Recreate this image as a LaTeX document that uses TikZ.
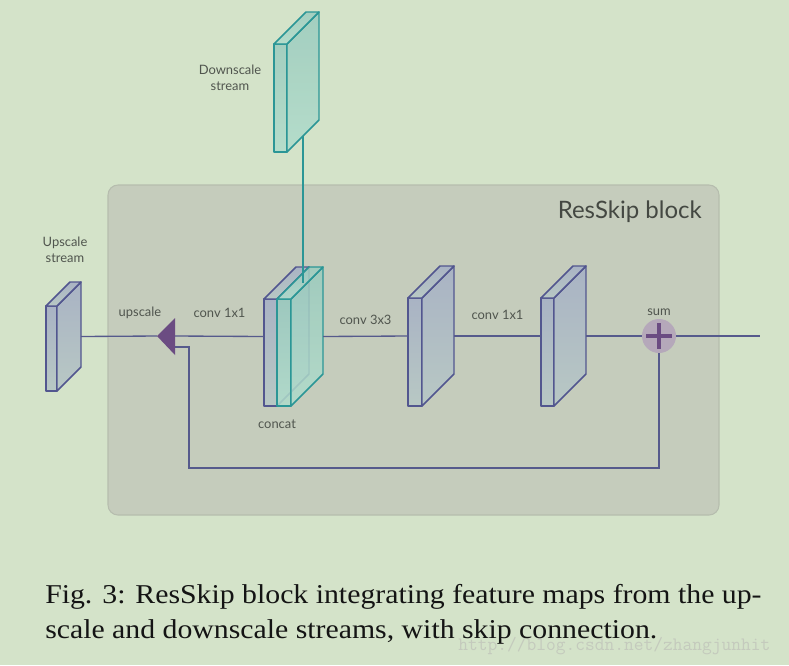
\documentclass[tikz,border=0pt]{standalone}
\usepackage{fontspec}
\setmainfont{Liberation Serif}[FakeStretch=1.095]
\newfontfamily\latofont{Lato}
\usepackage{tikz}
\usetikzlibrary{positioning,calc}
\definecolor{bgGreen}{HTML}{D4E3C9}
\definecolor{blockGray}{HTML}{C5CCBC}
\definecolor{blockEdge}{HTML}{B6BDAE}
\definecolor{lineBlue}{HTML}{565A8C}
\definecolor{slabEdge}{HTML}{52568F}
\definecolor{slabTop}{HTML}{A9B3C4}
\definecolor{slabBot}{HTML}{B8C8C4}
\definecolor{tealEdge}{HTML}{2B9696}
\definecolor{tealTop}{HTML}{9BCBBE}
\definecolor{tealBot}{HTML}{B0DCCB}
\definecolor{upPurple}{HTML}{6B4C82}
\definecolor{sumFill}{HTML}{B5A8BA}
\definecolor{txtGray}{HTML}{50554E}
\definecolor{wmGray}{HTML}{C4CABD}
\tikzstyle{line} = [line width=1pt, draw=lineBlue]
\tikzstyle{lineT} = [line width=1pt, draw=tealEdge]
\tikzstyle{slabB} = [draw=slabEdge, line width=1.1pt, line join=round, top color=slabTop, bottom color=slabBot]
\tikzstyle{slabT} = [draw=tealEdge, line width=1.1pt, line join=round, top color=tealTop, bottom color=tealBot, fill opacity=0.85]
\tikzstyle{lbl} = [font=\latofont\fontsize{9.7}{12}\selectfont, text=txtGray, inner sep=0pt, align=center]
\tikzstyle{blockRect} = [fill=blockGray, draw=blockEdge, line width=0.8pt, rounded corners=7.5pt]
\tikzstyle{sumNode} = [circle, fill=sumFill, minimum size=25.5pt, inner sep=0pt]
\tikzstyle{plus} = [line width=2.3pt, draw=upPurple]
\tikzset{
  pics/slab/.style n args={4}{code={
    \path[#4] (0,0) rectangle (#1,#2);
    \path[#4] (#1,0) -- ++(#3,-#3) -- ++(0,#2) -- (#1,#2) -- cycle;
    \path[#4] (0,0) -- ++(#3,-#3) -- ++(#1,0) -- (#1,0) -- cycle;
    \coordinate (-in) at (0,{(#2-#3)/2});
    \coordinate (-out) at ({#1+#3},{(#2-#3)/2});
    \coordinate (-top) at ({(#1+#3)/2},{-#3/2});
    \coordinate (-bot) at ({#1+#3/2},{#2-#3/2});
  }}
}

\begin{document}
\begin{tikzpicture}[x=0.75pt, y=-0.75pt]
        \useasboundingbox[fill=bgGreen] (0,0) rectangle (789,665);
        \draw [blockRect] (108,185) rectangle (719,515);
        \node (title) [lbl, text=txtGray!85!black, font=\latofont\fontsize{18}{21}\selectfont, anchor=east] at (702,212) {ResSkip block};

        \pic (st) at (46,306) {slab={11}{85}{24}{slabB}};
        \pic (cat) at (264,299) {slab={13}{107}{32}{slabB}};
        \pic (cat2) at (277,299) {slab={14}{107}{32}{slabT}};
        \pic (dn) at (274,44) {slab={13}{108}{32}{slabT}};
        \pic (c3) at (408,298) {slab={14}{108}{32}{slabB}};
        \pic (c1) at (541,298) {slab={13}{108}{32}{slabB}};

        \coordinate (uptip) at (157,336);
        \coordinate (up) at (175,336);
        \coordinate (upin) at (175,347);
        \coordinate (skip) at (189,468);
        \coordinate (outR) at (760,336);
        \node (sum) [sumNode] at (659,336) {};

        \node (stLbl) [lbl] at (65,250) {Upscale\\stream};
        \node (dnLbl) [lbl] at (230,78) {Downscale\\stream};
        \node (upLbl) [lbl] at (140,313) {upscale};
        \node (catLbl) [lbl] at (277,424) {concat};
        \node (sumLbl) [lbl, above=2.5pt of sum] {sum};

        \draw [line] (st-out) -- (uptip);
        \draw [line] (cat-in) -- node[lbl, above=13.5pt] {conv 1x1} (up);
        \draw [line] (cat2-out) -- node[lbl, above=8.5pt] {conv 3x3} (c3-in);
        \draw [line] (c3-out) -- node[lbl, above=11.5pt] {conv 1x1} (c1-in);
        \draw [line] (c1-out) -- (sum);
        \draw [line] (sum) -- (outR);
        \draw [line] (sum.south) |- (skip) |- (upin);
        \draw [lineT] (dn-bot) -- (dn-bot |- cat2-top);

        \fill [upPurple] (up) -- ++(0,-18) -- (uptip) -- ++(18,19) -- cycle;
        \draw [plus] ($(sum)+(-13,0)$) -- ($(sum)+(13,0)$);
        \draw [plus] ($(sum)+(0,-13)$) -- ($(sum)+(0,13)$);

        \node (wm) [anchor=base west, text=wmGray, font=\ttfamily\fontsize{14.2}{16}\selectfont, inner sep=0pt] at (458,650) {http://blog.csdn.net/zhangjunhit};
        \node (caption) [anchor=base west, align=left, inner sep=0pt, text=black!92, font=\fontsize{20.4}{26.25}\selectfont] at (45,638)
        {Fig. 3: ResSkip block integrating feature maps from the up-\\scale and downscale streams, with skip connection.};
\end{tikzpicture}
\end{document}
